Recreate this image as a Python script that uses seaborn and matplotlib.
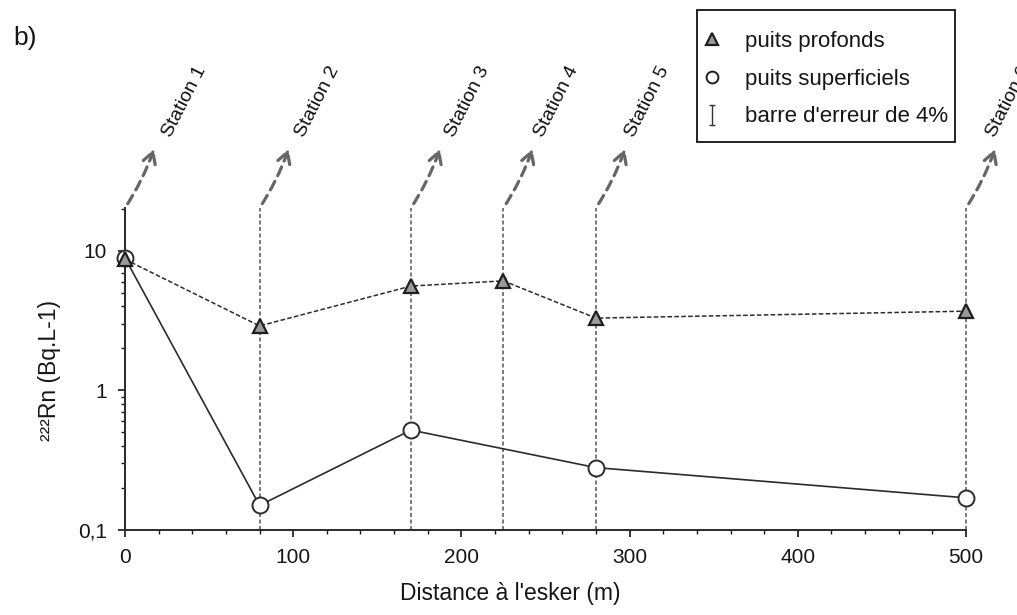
import numpy as np
import matplotlib
matplotlib.use("Agg")
import matplotlib.pyplot as plt
from matplotlib.lines import Line2D
from matplotlib.patches import Rectangle
from matplotlib.path import Path
from matplotlib.ticker import FixedLocator, FixedFormatter, LogLocator, MultipleLocator, NullFormatter
import seaborn as sns

# Sampling stations: distance from the esker (m)
station_x = [0, 80, 170, 225, 280, 500]
station_names = ["Station 1", "Station 2", "Station 3", "Station 4", "Station 5", "Station 6"]

# 222Rn activity (Bq/L) in deep wells
deep_x = [0, 80, 170, 225, 280, 500]
deep_rn = [8.7, 2.9, 5.6, 6.1, 3.3, 3.7]

# 222Rn activity (Bq/L) in shallow wells
shallow_x = [0, 80, 170, 280, 500]
shallow_rn = [8.9, 0.15, 0.52, 0.28, 0.17]

error_pct = 4

x_ticks = [0, 100, 200, 300, 400, 500]
y_ticks = [0.1, 1, 10]
y_tick_labels = ["0,1", "1", "10"]
legend_labels = ["puits profonds", "puits superficiels", "barre d'erreur de 4%"]

# horizontal pixel offset of each station name from its vertical line
name_dx = [46, 44, 43, 40, 38, 29]

sns.set_style("ticks")
plt.rcParams["font.family"] = ["Liberation Sans", "DejaVu Sans"]
ink = "#161616"
plt.rcParams["text.color"] = ink
plt.rcParams["axes.labelcolor"] = ink
plt.rcParams["xtick.color"] = ink
plt.rcParams["ytick.color"] = ink

W, H = 1017, 615
fig = plt.figure(figsize=(W / 100, H / 100), dpi=100)
ax = fig.add_axes([125 / W, 1 - 530 / H, 841 / W, 322 / H])

ax.set_yscale("log")
ytop = 20.3
ax.set_xlim(0, 500)
ax.set_ylim(0.1, ytop)

# 4 % error bars (tiny on this log scale, mostly covered by the markers)
ax.errorbar(deep_x, deep_rn, yerr=np.array(deep_rn) * error_pct / 100,
            fmt="none", ecolor="#333333", elinewidth=0.8, capsize=2, zorder=2,
            clip_on=False)
ax.errorbar(shallow_x, shallow_rn, yerr=np.array(shallow_rn) * error_pct / 100,
            fmt="none", ecolor="#333333", elinewidth=0.8, capsize=2, zorder=2,
            clip_on=False)

# Station verticals
ax.vlines(station_x, 0.1, ytop, colors="#6e6e6e", linewidth=1.3,
          linestyles=[(0, (2.2, 1.4))], clip_on=False, zorder=1)

sns.lineplot(x=shallow_x, y=shallow_rn, ax=ax, color="#2b2b2b", linewidth=1.2,
             marker="o", markersize=11.5, markerfacecolor="white",
             markeredgecolor="#2b2b2b", markeredgewidth=1.4, errorbar=None,
             zorder=4, clip_on=False)
sns.lineplot(x=deep_x, y=deep_rn, ax=ax, color="#2b2b2b", linewidth=1.1,
             linestyle=(0, (3, 1.5)), marker="^", markersize=10.5,
             markerfacecolor="#9a9a9a", markeredgecolor="#1e1e1e",
             markeredgewidth=1.6, errorbar=None, zorder=5, clip_on=False)

# Arrows and rotated station names
for sx, name, dx in zip(station_x, station_names, name_dx):
    ax.annotate("", xy=(sx, ytop), xycoords="data", xytext=(29, 59),
                textcoords="offset pixels", annotation_clip=False,
                arrowprops=dict(arrowstyle="<-,head_length=0.8,head_width=0.45",
                                color="#666666", lw=2.3, linestyle=(0, (3, 2)),
                                connectionstyle="arc3,rad=-0.06",
                                shrinkA=0, shrinkB=0))
    ax.annotate(name, xy=(sx, ytop), xycoords="data", xytext=(dx, 70),
                textcoords="offset pixels", rotation=63, rotation_mode="anchor",
                ha="left", va="baseline", fontsize=14, color="#111111",
                annotation_clip=False)

# Axes styling
for side in ["top", "right"]:
    ax.spines[side].set_visible(False)
for side in ["left", "bottom"]:
    ax.spines[side].set_linewidth(1.4)
    ax.spines[side].set_color("#2a2a2a")

ax.xaxis.set_major_locator(FixedLocator(x_ticks))
ax.xaxis.set_minor_locator(MultipleLocator(20))
ax.yaxis.set_major_locator(FixedLocator(y_ticks))
ax.yaxis.set_major_formatter(FixedFormatter(y_tick_labels))
ax.yaxis.set_minor_locator(LogLocator(base=10, subs=np.arange(2, 10)))
ax.yaxis.set_minor_formatter(NullFormatter())
ax.tick_params(axis="both", which="major", direction="out", length=5, width=1.2,
               labelsize=15, pad=8)
ax.tick_params(axis="both", which="minor", direction="out", length=3, width=1.0)

ax.set_xlabel("Distance à l'esker (m)", fontsize=16.5)
ax.xaxis.set_label_coords(0.458, -0.16)
ax.set_ylabel("²²²Rn (Bq.L-1)", fontsize=16.5)
ax.yaxis.set_label_coords(-0.076, 0.494)

fig.text(13 / W, 1 - 38 / H, "b)", fontsize=19, va="center", ha="left")

# Legend with a square black frame
ibeam = Path([(-0.3, -1), (0.3, -1), (0, -1), (0, 1), (-0.3, 1), (0.3, 1)],
             [Path.MOVETO, Path.LINETO, Path.MOVETO, Path.LINETO, Path.MOVETO, Path.LINETO])
handles = [
    Line2D([], [], ls="none", marker="^", ms=8.5, mfc="#9a9a9a", mec="#1e1e1e", mew=1.6),
    Line2D([], [], ls="none", marker="o", ms=8.5, mfc="white", mec="#1e1e1e", mew=1.4),
    Line2D([], [], ls="none", marker=ibeam, ms=14, mfc="none", mec="#333333", mew=1.0),
]
leg = fig.legend(handles, legend_labels, loc="upper left",
                 bbox_to_anchor=(701 / W, 1 - 31 / H), borderaxespad=0,
                 fontsize=16, frameon=False, handlelength=1.0, handletextpad=1.0,
                 labelspacing=0.75, borderpad=0)
fig.patches.append(Rectangle((697 / W, 1 - 142 / H), 258 / W, 132 / H,
                             transform=fig.transFigure, fill=False,
                             edgecolor="#111111", linewidth=1.3))

fig.savefig("out.png", dpi=100)
